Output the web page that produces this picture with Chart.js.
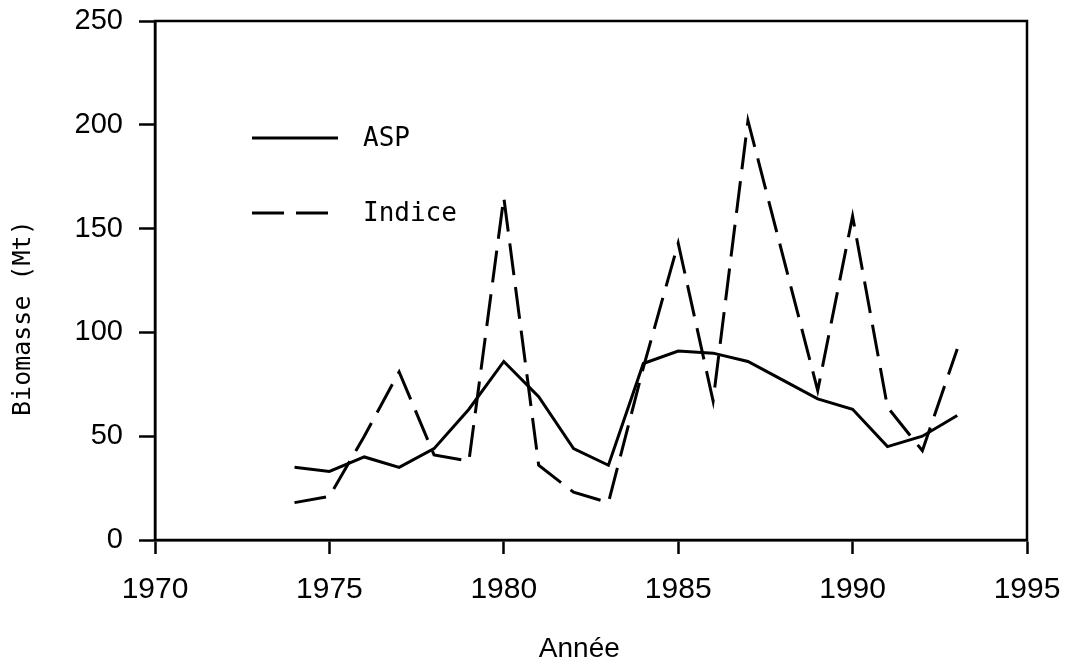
<!DOCTYPE html>
<html>
<head>
<meta charset="utf-8">
<script src="https://cdn.jsdelivr.net/npm/chart.js@4/dist/chart.umd.min.js"></script>
<style>
  html, body { margin: 0; padding: 0; background: #fff; }
  canvas { display: block; }
</style>
</head>
<body>
<canvas id="c" width="1069" height="669"></canvas>
<script>
const years  = [1974,1975,1976,1977,1978,1979,1980,1981,1982,1983,1984,1985,1986,1987,1988,1989,1990,1991,1992,1993];
const asp    = [35, 33, 40, 35, 44, 63, 86, 69, 44, 36, 85, 91, 90, 86, 77, 68, 63, 45, 50, 60];
const indice = [18, 21, 50, 81, 41, 38, 165, 36, 23, 18, 83, 143, 67, 202, 137, 72, 156, 64, 43, 92];
const seriesNames = ['ASP', 'Indice'];
const xTicks = [1970, 1975, 1980, 1985, 1990, 1995];
const yTicks = [0, 50, 100, 150, 200, 250];

const pts = vals => years.map((y, i) => ({ x: y, y: vals[i] }));

const frame = {
  id: 'frame',
  afterDraw(chart) {
    const { ctx, chartArea: a } = chart;
    ctx.save();
    ctx.strokeStyle = '#000';
    ctx.lineWidth = 2.5;
    ctx.strokeRect(a.left, a.top, a.right - a.left, a.bottom - a.top);
    ctx.restore();
  }
};

const insideLegend = {
  id: 'insideLegend',
  afterDraw(chart) {
    const ctx = chart.ctx;
    const rows = [ { y: 138 }, { y: 213 } ];
    ctx.save();
    chart.data.datasets.forEach((ds, i) => {
      const y = rows[i].y;
      ctx.strokeStyle = ds.borderColor;
      ctx.lineWidth = ds.borderWidth;
      ctx.setLineDash(ds.borderDash || []);
      ctx.beginPath();
      ctx.moveTo(252, y);
      ctx.lineTo(338, y);
      ctx.stroke();
      ctx.setLineDash([]);
      ctx.fillStyle = '#000';
      ctx.font = '26px "DejaVu Sans Mono"';
      ctx.textBaseline = 'middle';
      ctx.textAlign = 'left';
      ctx.fillText(ds.label, 363, y + 1);
    });
    ctx.restore();
  }
};

new Chart(document.getElementById('c'), {
  type: 'line',
  data: {
    datasets: [
      { label: seriesNames[0], data: pts(asp), borderColor: '#000', borderWidth: 3,
        pointRadius: 0, tension: 0, fill: false },
      { label: seriesNames[1], data: pts(indice), borderColor: '#000', borderWidth: 3,
        borderDash: [32, 12], pointRadius: 0, tension: 0, fill: false }
    ]
  },
  options: {
    responsive: false,
    animation: false,
    layout: { padding: { left: 0, right: 42, top: 21, bottom: 0 } },
    plugins: { legend: { display: false }, tooltip: { enabled: false } },
    scales: {
      x: {
        type: 'linear',
        min: 1970, max: 1995,
        afterBuildTicks: s => { s.ticks = xTicks.map(v => ({ value: v })); },
        afterFit: s => { s.height = 129; s.paddingLeft = 0; s.paddingRight = 0; },
        border: { display: true, color: '#000', width: 2.5 },
        grid: { drawOnChartArea: false, drawTicks: true, tickLength: 14, tickColor: '#000', tickWidth: 2.5, color: '#000' },
        ticks: { color: '#000', font: { family: '"Liberation Sans"', size: 30 }, padding: 18,
                 maxRotation: 0, autoSkip: false, callback: v => String(v) },
        title: { display: true, text: 'Année   ', color: '#000',
                 font: { family: '"Liberation Sans"', size: 28 }, padding: { top: 0, bottom: 3 } }
      },
      y: {
        min: 0, max: 250,
        afterBuildTicks: s => { s.ticks = yTicks.map(v => ({ value: v })); },
        afterFit: s => { s.width = 155; s.paddingTop = 0; s.paddingBottom = 0; },
        border: { display: true, color: '#000', width: 2.5 },
        grid: { drawOnChartArea: false, drawTicks: true, tickLength: 16, tickColor: '#000', tickWidth: 2.5, color: '#000' },
        ticks: { color: '#000', font: { family: '"Liberation Sans"', size: 29 }, padding: 16,
                 autoSkip: false, callback: v => String(v) },
        title: { display: true, text: 'Biomasse (Mt)     ', color: '#000',
                 font: { family: '"DejaVu Sans Mono"', size: 25 }, padding: { top: 8, bottom: 0 } }
      }
    }
  },
  plugins: [frame, insideLegend]
});
</script>
</body>
</html>
